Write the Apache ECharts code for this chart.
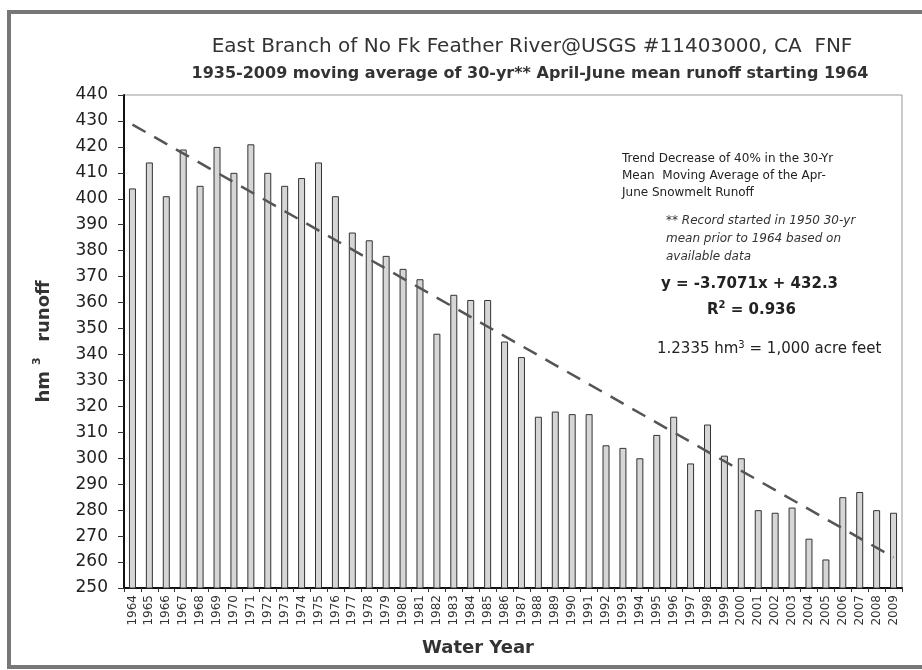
<!DOCTYPE html>
<html>
<head>
<meta charset="utf-8">
<script src="https://cdn.jsdelivr.net/npm/echarts@6/dist/echarts.min.js"></script>
<style>
  html, body { margin: 0; padding: 0; background: #fff; }
  #chart { width: 922px; height: 670px; }
</style>
</head>
<body>
<div id="chart"></div>
<script>
var years = ['1964','1965','1966','1967','1968','1969','1970','1971','1972','1973',
    '1974','1975','1976','1977','1978','1979','1980','1981','1982','1983',
    '1984','1985','1986','1987','1988','1989','1990','1991','1992','1993',
    '1994','1995','1996','1997','1998','1999','2000','2001','2002','2003',
    '2004','2005','2006','2007','2008','2009'];

// 30-yr mean April-June runoff, hm3
var runoff = [404, 414, 401, 419, 405, 420, 410, 421, 410, 405,
    408, 414, 401, 387, 384, 378, 373, 369, 348, 363,
    361, 361, 345, 339, 316, 318, 317, 317, 305, 304,
    300, 309, 316, 298, 313, 301, 300, 280, 279, 281,
    269, 261, 285, 287, 280, 279];

// trend line ends (1964, 2009)
var trendEnds = [428.6, 261.8];

var yTicks = { min: 250, max: 440, step: 10 };

var trend = years.map(function (y, i) {
    if (i === 0) return trendEnds[0];
    if (i === years.length - 1) return trendEnds[1];
    return null;
});

var font = '"DejaVu Sans", Verdana, sans-serif';

var chart = echarts.init(document.getElementById('chart'));

var option = {
    backgroundColor: '#fff',
    animation: false,
    title: [{
        text: 'East Branch of No Fk Feather River@USGS #11403000, CA  FNF',
        left: 527,
        top: 32,
        textAlign: 'center',
        textStyle: { fontFamily: font, fontSize: 20, fontWeight: 'normal', color: '#333' }
    }, {
        text: '1935-2009 moving average of 30-yr** April-June mean runoff starting 1964',
        left: 525,
        top: 61,
        textAlign: 'center',
        textStyle: { fontFamily: font, fontSize: 16, fontWeight: 'bold', color: '#333' }
    }],
    grid: {
        left: 124, top: 95, right: 20, bottom: 82,
        show: true, borderColor: '#999', borderWidth: 1
    },
    xAxis: {
        type: 'category',
        data: years,
        axisLine: { lineStyle: { color: '#111', width: 2 } },
        axisTick: { show: true, length: 4, lineStyle: { color: '#333' } },
        axisLabel: { rotate: 90, interval: 0, fontFamily: font, fontSize: 12, color: '#333', margin: 7 },
        splitLine: { show: false }
    },
    yAxis: {
        type: 'value',
        min: yTicks.min,
        max: yTicks.max,
        interval: yTicks.step,
        name: '{a|hm}{s|3}{a|  runoff}',
        nameLocation: 'middle',
        nameRotate: 90,
        nameGap: 68,
        nameTextStyle: {
            rich: {
                a: { fontFamily: font, fontSize: 18, fontWeight: 'bold', color: '#333', lineHeight: 24 },
                s: { fontFamily: font, fontSize: 11, fontWeight: 'bold', color: '#333', verticalAlign: 'top', padding: [0, 3, 0, 6] }
            }
        },
        axisLine: { show: true, lineStyle: { color: '#111', width: 2 } },
        axisTick: { show: true, length: 6, lineStyle: { color: '#333' } },
        axisLabel: { fontFamily: font, fontSize: 17, color: '#222', margin: 16 },
        splitLine: { show: false }
    },
    series: [{
        name: 'runoff',
        type: 'bar',
        data: runoff,
        barWidth: 7,
        itemStyle: { color: '#d6d6d6', borderColor: '#333', borderWidth: 1 }
    }, {
        name: 'trend',
        type: 'line',
        data: trend,
        connectNulls: true,
        symbol: 'none',
        lineStyle: { color: '#555', width: 2.5, type: [15, 10] },
        z: 5
    }],
    graphic: [{
        type: 'rect',
        shape: { x: 9, y: 12, width: 930, height: 655 },
        style: { fill: 'none', stroke: '#777', lineWidth: 4 },
        silent: true
    }, {
        type: 'text',
        x: 478, y: 648,
        style: {
            text: 'Water Year',
            font: 'bold 18px ' + font, fill: '#333',
            align: 'center', verticalAlign: 'middle'
        }
    }, {
        type: 'text',
        left: 622, top: 150,
        style: {
            text: 'Trend Decrease of 40% in the 30-Yr\nMean  Moving Average of the Apr-\nJune Snowmelt Runoff',
            font: '12px ' + font, fill: '#222', lineHeight: 17
        }
    }, {
        type: 'text',
        left: 666, top: 212,
        style: {
            text: '** Record started in 1950 30-yr\nmean prior to 1964 based on\navailable data',
            font: 'italic 12px ' + font, fill: '#333', lineHeight: 18
        }
    }, {
        type: 'text',
        left: 661, top: 277,
        style: {
            text: 'y = -3.7071x + 432.3',
            font: 'bold 15px ' + font, fill: '#222'
        }
    }, {
        type: 'text',
        left: 707, top: 300,
        style: {
            text: '{a|R}{s|2}{a| = 0.936}',
            rich: {
                a: { font: 'bold 15px ' + font, fill: '#222', lineHeight: 20 },
                s: { font: 'bold 10px ' + font, fill: '#222', verticalAlign: 'top' }
            }
        }
    }, {
        type: 'text',
        left: 657, top: 340,
        style: {
            text: '{a|1.2335 hm}{s|3}{a| = 1,000 acre feet}',
            rich: {
                a: { font: '15px ' + font, fill: '#222', lineHeight: 19 },
                s: { font: '10px ' + font, fill: '#222', verticalAlign: 'top' }
            }
        }
    }]
};

chart.setOption(option);
</script>
</body>
</html>
